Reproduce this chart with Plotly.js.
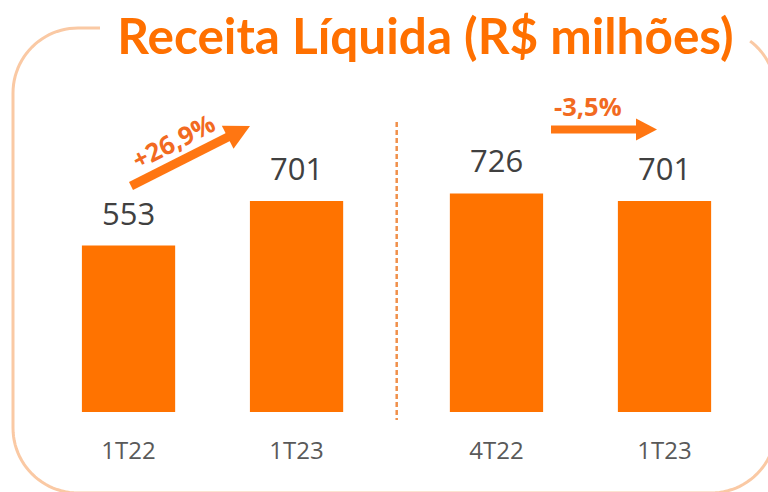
<!DOCTYPE html>
<html>
<head>
<meta charset="utf-8">
<script src="https://cdn.plot.ly/plotly-3.0.1.min.js"></script>
<style>html,body{margin:0;padding:0;background:#fff;}#chart{width:768px;height:492px;}</style>
</head>
<body>
<div id="chart"></div>
<script>
// ---- data ----
const categories = ['1T22', '1T23', '4T22', '1T23'];
const values = [553, 701, 726, 701];
const valueLabels = ['553', '701', '726', '701'];
const changeLabels = ['+26,9%', '-3,5%'];
const chartTitle = 'Receita Líquida (R$ milhões)';

// ---- layout helpers (pixel -> paper) ----
const W = 768, H = 492, MB = 80, PH = H - MB;
const px = x => x / W;
const py = y => (PH - y) / PH;

// bar positions: two groups with a wider gap between them
const xpos = categories.map((c, i) => i + (i >= 2 ? 0.19 : 0));

function arc(cx, cy, r, a0, a1, n) {
  const pts = [];
  for (let k = 0; k <= n; k++) {
    const a = (a0 + (a1 - a0) * k / n) * Math.PI / 180;
    pts.push([cx + r * Math.cos(a), cy + r * Math.sin(a)]);
  }
  return pts;
}
const R = 65, L = 13, T = 28, Rt = 776, B = 493;
let pts = [[100, T]];
pts = pts.concat(arc(L + R, T + R, R, -90, -180, 24));
pts = pts.concat(arc(L + R, B - R, R, 180, 90, 24));
pts = pts.concat(arc(Rt - R, B - R, R, 90, 0, 24));
pts = pts.concat(arc(Rt - R, T + R, R, 0, -53, 16));
const borderPath = pts.map((p, i) => (i ? 'L' : 'M') + px(p[0]).toFixed(5) + ',' + py(p[1]).toFixed(5)).join(' ');

function poly(points) {
  return points.map((p, i) => (i ? 'L' : 'M') + px(p[0]).toFixed(5) + ',' + py(p[1]).toFixed(5)).join(' ') + ' Z';
}

// arrow 1 (diagonal)
const a1T = [131, 186], a1P = [250, 126];
const dx = a1P[0] - a1T[0], dy = a1P[1] - a1T[1], len = Math.hypot(dx, dy);
const u = [dx / len, dy / len], nrm = [-u[1], u[0]];
const hl = 25, hw = 13;
const a1B = [a1P[0] - hl * u[0], a1P[1] - hl * u[1]];
const head1 = [a1P, [a1B[0] + hw * nrm[0], a1B[1] + hw * nrm[1]], [a1B[0] - hw * nrm[0], a1B[1] - hw * nrm[1]]];

// arrow 2 (horizontal)
const a2y = 129.5, a2x0 = 551, a2x1 = 657;
const head2 = [[a2x1, a2y], [a2x1 - 21, a2y - 11], [a2x1 - 21, a2y + 11]];

const arrowColor = '#FF7612';
const shapes = [
  {type: 'path', xref: 'paper', yref: 'paper', path: borderPath, line: {color: '#FAC9A4', width: 3}, fillcolor: 'rgba(0,0,0,0)'},
  {type: 'line', xref: 'paper', yref: 'paper', x0: px(396.7), x1: px(396.7), y0: py(122), y1: py(420),
   line: {color: '#F0904A', width: 2.5, dash: '5px,3px'}},
  {type: 'line', xref: 'paper', yref: 'paper', x0: px(a1T[0]), y0: py(a1T[1]), x1: px(a1B[0] + 2 * u[0]), y1: py(a1B[1] + 2 * u[1]),
   line: {color: arrowColor, width: 9}},
  {type: 'path', xref: 'paper', yref: 'paper', path: poly(head1), fillcolor: arrowColor, line: {width: 0}},
  {type: 'line', xref: 'paper', yref: 'paper', x0: px(a2x0), y0: py(a2y), x1: px(a2x1 - 19), y1: py(a2y),
   line: {color: arrowColor, width: 8}},
  {type: 'path', xref: 'paper', yref: 'paper', path: poly(head2), fillcolor: arrowColor, line: {width: 0}}
];

const annotations = values.map((v, i) => ({
  x: xpos[i], y: v, xref: 'x', yref: 'y', text: valueLabels[i], showarrow: false,
  xanchor: 'center', yanchor: 'bottom', yshift: 10,
  font: {family: 'Open Sans', size: 31, color: '#404040'}
}));
annotations.push({
  xref: 'paper', yref: 'paper', x: px(173), y: py(141), text: changeLabels[0], showarrow: false,
  xanchor: 'center', yanchor: 'middle', textangle: -27,
  font: {family: 'Open Sans', size: 25.5, color: '#F26A21', weight: 'bold'}
});
annotations.push({
  xref: 'paper', yref: 'paper', x: px(588), y: py(106), text: changeLabels[1], showarrow: false,
  xanchor: 'center', yanchor: 'middle',
  font: {family: 'Open Sans', size: 25.5, color: '#F26A21', weight: 'bold'}
});

const trace = {
  type: 'bar', x: xpos, y: values, width: 0.555,
  marker: {color: '#FF7300'}, hoverinfo: 'skip'
};

const layout = {
  width: W, height: H,
  margin: {l: 0, r: 0, t: 0, b: MB, pad: 0},
  paper_bgcolor: '#ffffff', plot_bgcolor: '#ffffff',
  showlegend: false,
  title: {text: '<b>' + chartTitle + '</b>', x: 425.5 / W, xanchor: 'center', xref: 'container',
          y: 1 - 37 / H, yref: 'container', yanchor: 'middle',
          font: {family: 'Lato', size: 49.5, color: '#FF7000'}},
  xaxis: {range: [-0.765, 3.806], tickvals: xpos, ticktext: categories, ticks: '', showgrid: false,
          zeroline: false, showline: false, ticklabelstandoff: 22, fixedrange: true,
          tickfont: {family: 'Open Sans', size: 24, color: '#595959'}},
  yaxis: {range: [0, PH / 0.301], visible: false, showgrid: false, zeroline: false, fixedrange: true},
  shapes: shapes,
  annotations: annotations
};

Plotly.newPlot('chart', [trace], layout, {displayModeBar: false, staticPlot: true});
</script>
</body>
</html>
